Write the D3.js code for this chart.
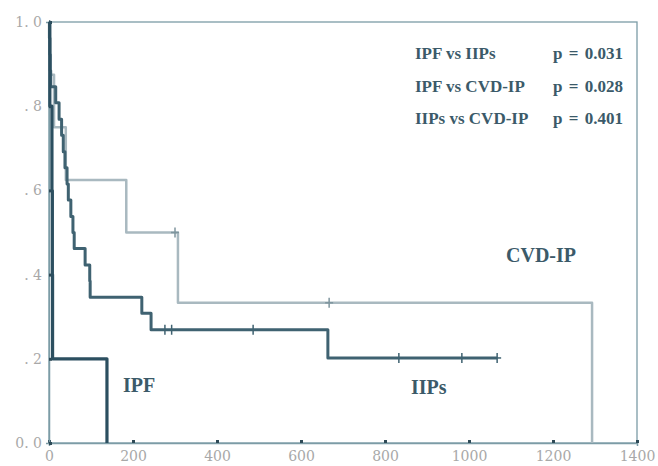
<!DOCTYPE html>
<html>
<head>
<meta charset="utf-8">
<script src="https://cdn.jsdelivr.net/npm/d3@7"></script>
<style>
  body { margin: 0; background: #fff; }
  .tick text { font-family: "DejaVu Serif", "Liberation Serif", serif; fill: #a8a8a8; font-size: 14px; }
  .note { font-family: "Liberation Serif", serif; font-weight: bold; fill: #3b5a69; font-size: 17px; }
  .curve-label { font-size: 20px; }
</style>
</head>
<body>
<div id="chart"></div>
<script>
// survival curves (days vs cumulative survival)
const ipfTime = [0, 2, 7, 8, 8.5, 138];
const ipfSurv = [1.0, 0.8, 0.6, 0.4, 0.2, 0.0];

const iipTime = [0, 1, 2, 3, 4, 16, 24, 30, 34, 38, 43, 46, 52, 57, 60, 86, 97, 98, 221, 243, 664, 1067];
const iipSurv = [1.0, 0.962, 0.923, 0.885, 0.846, 0.808, 0.769, 0.731, 0.692, 0.654, 0.615, 0.577, 0.538, 0.5, 0.462, 0.423, 0.385, 0.346, 0.308, 0.269, 0.202, 0.202];
const iipCensorTime = [276, 292, 486, 833, 983, 1067];
const iipCensorSurv = [0.269, 0.269, 0.269, 0.202, 0.202, 0.202];

const cvdTime = [0, 1, 12, 40, 184, 307, 1293];
const cvdSurv = [1.0, 0.875, 0.75, 0.625, 0.5, 0.333, 0.0];
const cvdCensorTime = [300, 667];
const cvdCensorSurv = [0.5, 0.333];

const xTicks = [0, 200, 400, 600, 800, 1000, 1200, 1400];
const yTicks = [0, 0.2, 0.4, 0.6, 0.8, 1.0];
const yTickLabels = ["0. 0", ". 2", ". 4", ". 6", ". 8", "1. 0"];

const comparisons = ["IPF vs IIPs", "IPF vs CVD-IP", "IIPs vs CVD-IP"];
const pValues = ["p = 0.031", "p = 0.028", "p = 0.401"];

const width = 658, height = 466;
const svg = d3.select('#chart').append('svg')
    .attr('width', width)
    .attr('height', height);

const x = d3.scaleLinear().domain([0, 1400]).range([49, 637]);
const y = d3.scaleLinear().domain([0, 1]).range([443, 22]);

const frameColor = '#7c9ca6';

// frame (top and right)
svg.append('rect')
    .attr('x', x(0)).attr('y', y(1))
    .attr('width', x(1400) - x(0)).attr('height', y(0) - y(1))
    .attr('fill', 'none')
    .attr('stroke', frameColor)
    .attr('stroke-width', 1.3);

// axes
const xAxis = svg.append('g')
    .attr('transform', `translate(0,${y(0)})`)
    .call(d3.axisBottom(x).tickValues(xTicks).tickSize(3).tickFormat(d3.format('d')));
const yAxis = svg.append('g')
    .attr('transform', `translate(${x(0)},0)`)
    .call(d3.axisLeft(y).tickValues(yTicks).tickSize(3).tickFormat((d, i) => yTickLabels[i]));

[xAxis, yAxis].forEach(g => {
    g.select('.domain').attr('stroke', frameColor).attr('stroke-width', 1.5);
    g.selectAll('.tick line').attr('stroke', '#2e4a57').attr('stroke-width', 3);
});
xAxis.selectAll('.tick line').attr('y2', -3).attr('y1', 0);
yAxis.selectAll('.tick line').attr('x2', 3).attr('x1', 0);
xAxis.selectAll('.tick text').attr('y', 18).attr('dy', 0);
yAxis.selectAll('.tick text').attr('x', -7);

const stepLine = d3.line()
    .x(d => x(d[0]))
    .y(d => y(d[1]))
    .curve(d3.curveStepAfter);

function drawCurve(times, surv, color, w) {
    svg.append('path')
        .datum(times.map((t, i) => [t, surv[i]]))
        .attr('d', stepLine)
        .attr('fill', 'none')
        .attr('stroke', color)
        .attr('stroke-width', w)
        .attr('stroke-linejoin', 'round');
}

function drawCensors(times, surv, color) {
    const g = svg.append('g');
    times.forEach((t, i) => {
        g.append('line')
            .attr('x1', x(t)).attr('x2', x(t))
            .attr('y1', y(surv[i]) - 5).attr('y2', y(surv[i]) + 5)
            .attr('stroke', color).attr('stroke-width', 1.5);
        g.append('line')
            .attr('x1', x(t) - 4).attr('x2', x(t) + 4)
            .attr('y1', y(surv[i])).attr('y2', y(surv[i]))
            .attr('stroke', color).attr('stroke-width', 1.5);
    });
}

drawCurve(cvdTime, cvdSurv, '#a9b9c0', 2.5);
drawCensors(cvdCensorTime, cvdCensorSurv, '#7f959e');
drawCurve(iipTime, iipSurv, '#3f6271', 3);
drawCensors(iipCensorTime, iipCensorSurv, '#3f6271');
drawCurve(ipfTime, ipfSurv, '#2c4f60', 3.2);

// p-value box text
comparisons.forEach((c, i) => {
    svg.append('text').attr('class', 'note')
        .attr('x', 415).attr('y', 59 + i * 32.5).text(c);
    svg.append('text').attr('class', 'note')
        .attr('x', 553).attr('y', 59 + i * 32.5)
        .style('word-spacing', '2px').text(pValues[i]);
});

// curve labels
svg.append('text').attr('class', 'note curve-label').attr('x', 506).attr('y', 262).text('CVD-IP');
svg.append('text').attr('class', 'note curve-label').attr('x', 411).attr('y', 394).text('IIPs');
svg.append('text').attr('class', 'note curve-label').attr('x', 123).attr('y', 392).text('IPF');
</script>
</body>
</html>
